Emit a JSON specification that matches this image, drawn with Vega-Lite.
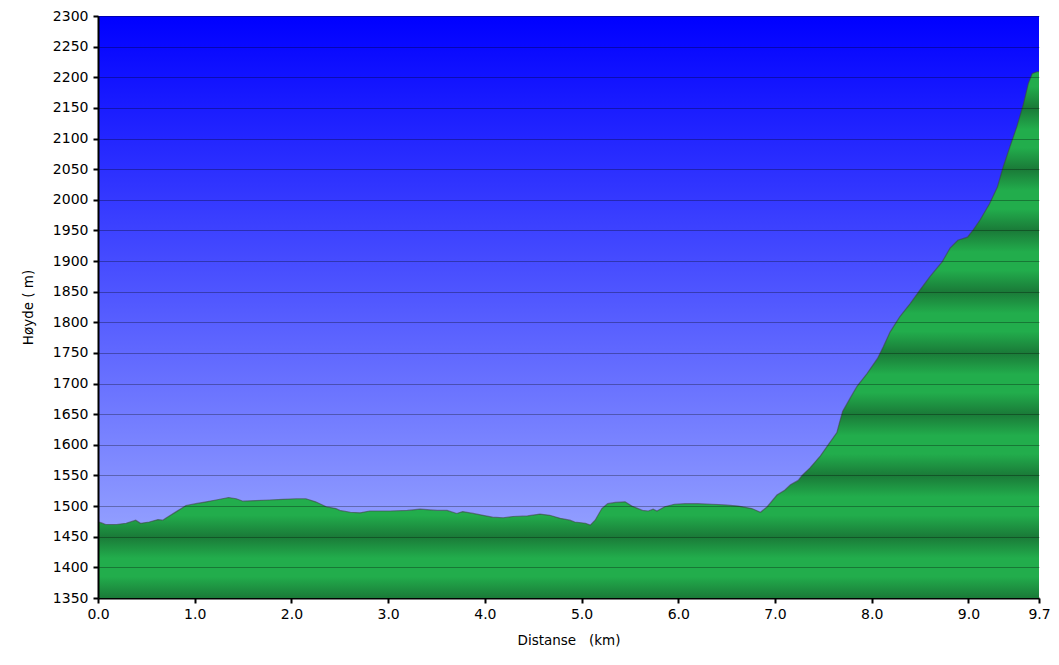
{
  "$schema": "https://vega.github.io/schema/vega-lite/v6.json",
  "width": 941,
  "height": 582,
  "autosize": {"type": "none"},
  "padding": {"left": 98, "top": 16, "right": 20, "bottom": 67},
  "background": "#ffffff",
  "config": {
    "view": {
      "stroke": null,
      "fill": {"gradient": "linear", "x1": 0, "y1": 0, "x2": 0, "y2": 1,
        "stops": [{"offset": 0, "color": "#0000ff"}, {"offset": 1, "color": "#a6b4ff"}]}
    },
    "axis": {"labelFont": "DejaVu Sans", "titleFont": "DejaVu Sans", "labelFontSize": 14, "titleFontSize": 13.5, "titleFontWeight": "normal", "labelColor": "#000", "titleColor": "#000", "domainColor": "#000", "domainWidth": 2, "tickColor": "#000", "tickWidth": 2, "tickSize": 5}
  },
  "data": {"values": [
    {"km": 0.00, "h": 1474}, {"km": 0.03, "h": 1473}, {"km": 0.08, "h": 1470}, {"km": 0.19, "h": 1470},
    {"km": 0.29, "h": 1472}, {"km": 0.39, "h": 1477}, {"km": 0.44, "h": 1472}, {"km": 0.53, "h": 1474},
    {"km": 0.62, "h": 1478}, {"km": 0.67, "h": 1477}, {"km": 0.70, "h": 1480}, {"km": 0.81, "h": 1491},
    {"km": 0.91, "h": 1501}, {"km": 1.01, "h": 1504}, {"km": 1.12, "h": 1507}, {"km": 1.22, "h": 1510},
    {"km": 1.35, "h": 1514}, {"km": 1.43, "h": 1512}, {"km": 1.50, "h": 1508}, {"km": 1.63, "h": 1509},
    {"km": 1.77, "h": 1510}, {"km": 1.91, "h": 1511}, {"km": 2.05, "h": 1512}, {"km": 2.15, "h": 1512},
    {"km": 2.25, "h": 1507}, {"km": 2.36, "h": 1499}, {"km": 2.46, "h": 1496}, {"km": 2.50, "h": 1493},
    {"km": 2.61, "h": 1490}, {"km": 2.71, "h": 1489}, {"km": 2.81, "h": 1492}, {"km": 3.02, "h": 1492},
    {"km": 3.20, "h": 1493}, {"km": 3.33, "h": 1495}, {"km": 3.51, "h": 1493}, {"km": 3.61, "h": 1493},
    {"km": 3.71, "h": 1488}, {"km": 3.77, "h": 1491}, {"km": 3.88, "h": 1488}, {"km": 3.98, "h": 1485},
    {"km": 4.08, "h": 1482}, {"km": 4.19, "h": 1481}, {"km": 4.29, "h": 1483}, {"km": 4.44, "h": 1484},
    {"km": 4.57, "h": 1487}, {"km": 4.67, "h": 1485}, {"km": 4.78, "h": 1480}, {"km": 4.88, "h": 1477},
    {"km": 4.93, "h": 1474}, {"km": 5.04, "h": 1472}, {"km": 5.09, "h": 1469}, {"km": 5.14, "h": 1477},
    {"km": 5.21, "h": 1496}, {"km": 5.27, "h": 1504}, {"km": 5.35, "h": 1506}, {"km": 5.45, "h": 1507},
    {"km": 5.52, "h": 1500}, {"km": 5.63, "h": 1493}, {"km": 5.69, "h": 1492}, {"km": 5.74, "h": 1495},
    {"km": 5.78, "h": 1492}, {"km": 5.86, "h": 1499}, {"km": 5.96, "h": 1503}, {"km": 6.07, "h": 1504},
    {"km": 6.20, "h": 1504}, {"km": 6.35, "h": 1503}, {"km": 6.48, "h": 1502}, {"km": 6.62, "h": 1500},
    {"km": 6.76, "h": 1496}, {"km": 6.85, "h": 1490}, {"km": 6.92, "h": 1499}, {"km": 7.02, "h": 1518},
    {"km": 7.10, "h": 1526}, {"km": 7.16, "h": 1535}, {"km": 7.24, "h": 1542}, {"km": 7.28, "h": 1550},
    {"km": 7.36, "h": 1562}, {"km": 7.47, "h": 1582}, {"km": 7.55, "h": 1600}, {"km": 7.64, "h": 1620},
    {"km": 7.67, "h": 1638}, {"km": 7.70, "h": 1655}, {"km": 7.78, "h": 1677}, {"km": 7.85, "h": 1696},
    {"km": 7.95, "h": 1716}, {"km": 8.06, "h": 1741}, {"km": 8.12, "h": 1760}, {"km": 8.19, "h": 1784},
    {"km": 8.29, "h": 1809}, {"km": 8.40, "h": 1831}, {"km": 8.50, "h": 1853}, {"km": 8.60, "h": 1874},
    {"km": 8.73, "h": 1899}, {"km": 8.81, "h": 1921}, {"km": 8.89, "h": 1934}, {"km": 8.99, "h": 1939},
    {"km": 9.05, "h": 1951}, {"km": 9.12, "h": 1967}, {"km": 9.22, "h": 1994}, {"km": 9.30, "h": 2021},
    {"km": 9.36, "h": 2054}, {"km": 9.43, "h": 2087}, {"km": 9.50, "h": 2119}, {"km": 9.57, "h": 2157},
    {"km": 9.62, "h": 2190}, {"km": 9.66, "h": 2206}, {"km": 9.71, "h": 2209}, {"km": 9.73, "h": 2209}
  ]},
  "encoding": {
    "x": {"field": "km", "type": "quantitative",
      "scale": {"domain": [0, 9.73], "nice": false, "zero": false},
      "axis": {"values": [0, 1, 2, 3, 4, 5, 6, 7, 8, 9, 9.73], "format": ".1f", "grid": false,
        "title": "Distanse\u00a0\u00a0\u00a0(km)", "titleY": 42, "titleBaseline": "middle", "labelPadding": 4, "labelFlush": false}},
    "y": {"field": "h", "type": "quantitative",
      "scale": {"domain": [1350, 2300], "nice": false, "zero": false},
      "axis": {"values": [1350, 1400, 1450, 1500, 1550, 1600, 1650, 1700, 1750, 1800, 1850, 1900, 1950, 2000, 2050, 2100, 2150, 2200, 2250, 2300],
        "format": "d",
        "grid": true, "gridColor": "#000000", "gridOpacity": 0.3, "gridWidth": 1, "zindex": 1,
        "title": "Høyde ( m)", "titleX": -70, "titleY": 291, "titleAngle": -90, "titleBaseline": "middle", "titleAlign": "center",
        "labelPadding": 5, "labelFlush": false}}
  },
  "layer": [
    {
      "mark": {"type": "area", "interpolate": "linear",
        "fill": {"gradient": "linear", "x1": 0, "y1": 0, "x2": 0, "y2": 1,
          "stops": [
            {"offset": 0, "color": "#22ad4c"}, {"offset": 0.0279, "color": "#22ad4c"}, {"offset": 0.0687, "color": "#1a7a38"},
            {"offset": 0.1094, "color": "#22ad4c"}, {"offset": 0.1444, "color": "#22ad4c"}, {"offset": 0.1851, "color": "#1a7a38"},
            {"offset": 0.2258, "color": "#22ad4c"}, {"offset": 0.2608, "color": "#22ad4c"}, {"offset": 0.3015, "color": "#1a7a38"},
            {"offset": 0.3423, "color": "#22ad4c"}, {"offset": 0.3772, "color": "#22ad4c"}, {"offset": 0.4179, "color": "#1a7a38"},
            {"offset": 0.4587, "color": "#22ad4c"}, {"offset": 0.4936, "color": "#22ad4c"}, {"offset": 0.5343, "color": "#1a7a38"},
            {"offset": 0.5751, "color": "#22ad4c"}, {"offset": 0.6100, "color": "#22ad4c"}, {"offset": 0.6508, "color": "#1a7a38"},
            {"offset": 0.6915, "color": "#22ad4c"}, {"offset": 0.7264, "color": "#22ad4c"}, {"offset": 0.7672, "color": "#1a7a38"},
            {"offset": 0.8079, "color": "#22ad4c"}, {"offset": 0.8428, "color": "#22ad4c"}, {"offset": 0.8836, "color": "#1a7a38"},
            {"offset": 0.9243, "color": "#22ad4c"}, {"offset": 0.9593, "color": "#22ad4c"}, {"offset": 1, "color": "#1a7a38"}
          ]}},
      "encoding": {"y2": {"datum": 1350}}
    },
    {
      "mark": {"type": "line", "interpolate": "linear", "stroke": "#404040", "strokeWidth": 1.2, "strokeOpacity": 0.55},
      "encoding": {}
    }
  ]
}
